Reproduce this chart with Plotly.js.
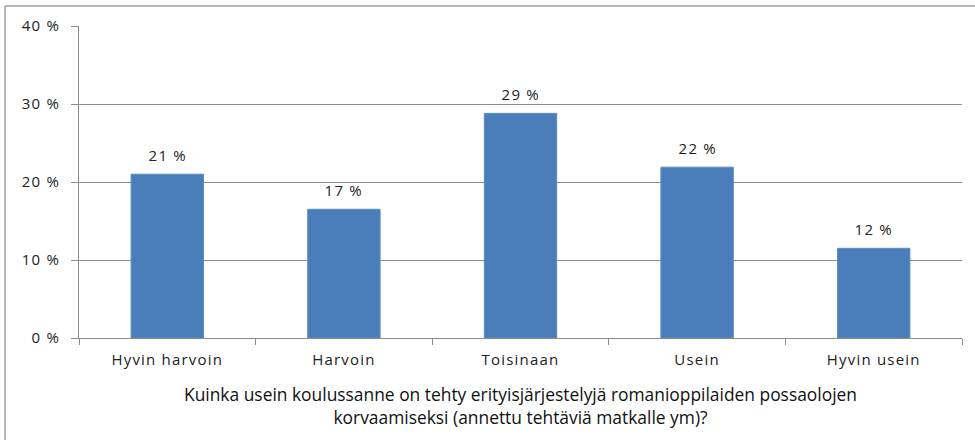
<!DOCTYPE html>
<html>
<head>
<meta charset="utf-8">
<script src="https://cdn.plot.ly/plotly-3.0.1.min.js"></script>
<style>
html,body{margin:0;padding:0;background:#fff;}
#chart{width:975px;height:440px;}
#chart .xtick text, #chart .ytick text { letter-spacing: 1.2px; }
#chart g.annotation:not([data-index="5"]) text { letter-spacing: 1.2px; }
</style>
</head>
<body>
<div id="chart"></div>
<script>
var categories = ["Hyvin harvoin", "Harvoin", "Toisinaan", "Usein", "Hyvin usein"];
var values = [21.0, 16.5, 28.8, 21.9, 11.5];
var valueLabels = ["21 %", "17 %", "29 %", "22 %", "12 %"];
var yTickVals = [0, 10, 20, 30, 40];
var yTickText = ["0 %", "10 %", "20 %", "30 %", "40 %"];
var axisTitle = "Kuinka usein koulussanne on tehty erityisjärjestelyjä romanioppilaiden possaolojen<br>korvaamiseksi (annettu tehtäviä matkalle ym)?";

var W = 975, H = 440;
var margin = {l: 79, r: 13, t: 26, b: 102};
var plotW = W - margin.l - margin.r, plotH = H - margin.t - margin.b;

var trace = {
  type: "bar",
  x: categories,
  y: values,
  marker: {color: "#4A7EBB", line: {color: "#5B8AC6", width: 1}},
  hoverinfo: "none"
};

var annotations = categories.map(function (c, i) {
  return {
    x: c, y: values[i], xref: "x", yref: "y",
    text: valueLabels[i], showarrow: false,
    yanchor: "bottom", yshift: 7,
    font: {family: "Open Sans, sans-serif", size: 15, color: "#222"}
  };
});
annotations.push({
  x: 0.5, y: -42 / plotH, xref: "paper", yref: "paper",
  xanchor: "center", yanchor: "top",
  text: axisTitle, showarrow: false,
  font: {family: "Open Sans, sans-serif", size: 17.4, color: "#111"}
});

var layout = {
  width: W, height: H,
  margin: margin,
  paper_bgcolor: "#fff", plot_bgcolor: "#fff",
  showlegend: false,
  bargap: 0.59,
  xaxis: {
    type: "category",
    tickson: "boundaries",
    ticks: "outside", ticklen: 6, tickcolor: "#8C8C8C", tickwidth: 1,
    showline: true, linecolor: "#8C8C8C", linewidth: 1,
    showgrid: false, zeroline: false,
    ticklabelstandoff: 8,
    tickfont: {family: "Open Sans, sans-serif", size: 15, color: "#222"},
    fixedrange: true
  },
  yaxis: {
    range: [0, 40],
    tickvals: yTickVals, ticktext: yTickText,
    ticks: "outside", ticklen: 7, tickcolor: "#8C8C8C", tickwidth: 1,
    showline: true, linecolor: "#8C8C8C", linewidth: 1,
    showgrid: true, gridcolor: "#8C8C8C", gridwidth: 1,
    zeroline: false,
    ticklabelstandoff: 8,
    tickfont: {family: "Open Sans, sans-serif", size: 15, color: "#222"},
    fixedrange: true
  },
  annotations: annotations,
  shapes: [
    {type: "line", xref: "paper", yref: "paper",
     x0: (5 - margin.l) / plotW, x1: (W + 5 - margin.l) / plotW,
     y0: (H - margin.b - 6) / plotH, y1: (H - margin.b - 6) / plotH,
     line: {color: "#A0A0A0", width: 1.5}},
    {type: "line", xref: "paper", yref: "paper",
     x0: (5 - margin.l) / plotW, x1: (5 - margin.l) / plotW,
     y0: (H - margin.b - 6) / plotH, y1: -(margin.b + 5) / plotH,
     line: {color: "#A0A0A0", width: 1.5}}
  ]
};

Plotly.newPlot("chart", [trace], layout, {displayModeBar: false, staticPlot: true});
</script>
</body>
</html>
